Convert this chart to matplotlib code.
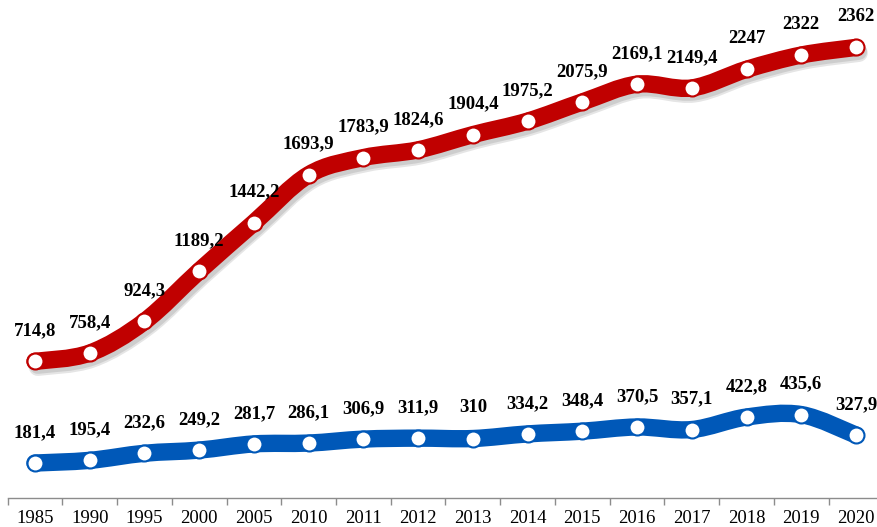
import numpy as np
import matplotlib
matplotlib.use("Agg")
import matplotlib.pyplot as plt
from matplotlib.path import Path
from matplotlib.patches import PathPatch
import matplotlib.patheffects as pe

years = ["1985", "1990", "1995", "2000", "2005", "2010", "2011", "2012",
         "2013", "2014", "2015", "2016", "2017", "2018", "2019", "2020"]
red_vals = [714.8, 758.4, 924.3, 1189.2, 1442.2, 1693.9, 1783.9, 1824.6,
            1904.4, 1975.2, 2075.9, 2169.1, 2149.4, 2247, 2322, 2362]
blue_vals = [181.4, 195.4, 232.6, 249.2, 281.7, 286.1, 306.9, 311.9,
             310, 334.2, 348.4, 370.5, 357.1, 422.8, 435.6, 327.9]

RED = "#C00000"
BLUE = "#0058B8"


def smooth_path(xs, ys):
    # Catmull-Rom style bezier through the points (like a spreadsheet "smoothed line")
    pts = np.column_stack([xs, ys]).astype(float)
    n = len(pts)
    verts = [pts[0]]
    codes = [Path.MOVETO]
    for i in range(n - 1):
        p0 = pts[i - 1] if i > 0 else pts[i]
        p1 = pts[i]
        p2 = pts[i + 1]
        p3 = pts[i + 2] if i + 2 < n else pts[i + 1]
        c1 = p1 + (p2 - p0) / 6.0
        c2 = p2 - (p3 - p1) / 6.0
        verts += [c1, c2, p2]
        codes += [Path.CURVE4] * 3
    return Path(verts, codes)


def fmt(v):
    return ("%g" % v).replace(".", ",")


fig = plt.figure(figsize=(8.78, 5.27), dpi=100)
W, H = 878.0, 527.0
x0_px, x1_px = 7.6, 883.4
y0_px = 497.6
ax = fig.add_axes([x0_px / W, (H - y0_px) / H, (x1_px - x0_px) / W, 476.5 / H])

x = np.arange(len(years))
ax.set_xlim(-0.5, len(years) - 0.5)
ax.set_ylim(0, 2500)

for vals, col, shadow in [(blue_vals, BLUE, False), (red_vals, RED, True)]:
    effects = []
    if shadow:
        effects = [pe.Stroke(offset=(2, -4), linewidth=13, foreground="#000000", alpha=0.10),
                   pe.Stroke(offset=(2, -3), linewidth=12, foreground="#000000", alpha=0.10),
                   pe.Normal()]
    patch = PathPatch(smooth_path(x, vals), facecolor="none", edgecolor=col,
                      lw=12.5, capstyle="round", joinstyle="round", zorder=2,
                      path_effects=effects)
    ax.add_patch(patch)
    ax.plot(x, vals, "o", ms=11.5, mfc="white", mec=col, mew=1.5, zorder=3)
    for xi, v in zip(x, vals):
        ax.annotate(fmt(v), (xi, v), xytext=(0, 22), textcoords="offset points",
                    ha="center", va="center", fontsize=13.5, fontweight="bold",
                    family="Liberation Serif", color="black", zorder=4)

for s in ["top", "right", "left"]:
    ax.spines[s].set_visible(False)
ax.spines["bottom"].set_color("#8c8c8c")
ax.spines["bottom"].set_linewidth(1)

ax.set_yticks([])
ax.set_xticks(x)
ax.set_xticklabels(years, family="Liberation Serif", fontsize=13.5)
ax.tick_params(axis="x", which="major", length=0, pad=9)
ax.set_xticks(np.arange(len(years) + 1) - 0.5, minor=True)
ax.tick_params(axis="x", which="minor", length=5, width=1, color="#8c8c8c", direction="out")

fig.savefig("out.png", dpi=100)
